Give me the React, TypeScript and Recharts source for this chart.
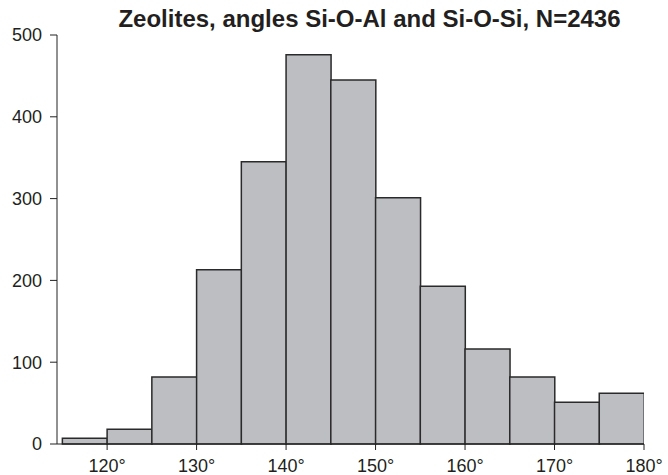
import { Bar, BarChart, XAxis, YAxis } from "recharts";

// bin start angles (degrees), each bin 5° wide
const binStarts = [115, 120, 125, 130, 135, 140, 145, 150, 155, 160, 165, 170, 175];
const counts = [7, 18, 82, 213, 345, 476, 445, 301, 193, 116, 82, 51, 62];
const xTicks = [120, 130, 140, 150, 160, 170, 180];
const yTicks = [0, 100, 200, 300, 400, 500];

const BIN = 5;

const chartData = binStarts.map((start, i) => ({
  mid: start + BIN / 2,
  count: counts[i],
}));

const textColor = "#231f20";
const font = "'Liberation Sans', Arial, sans-serif";

const App = () => {
  return (
    <div style={{ position: "absolute", left: 0, top: 0, width: 668, height: 475, background: "#fff" }}>
      <div
        style={{
          position: "absolute",
          left: 0,
          top: 5,
          width: 739,
          textAlign: "center",
          fontFamily: font,
          fontWeight: "bold",
          fontSize: 24,
          color: textColor,
          whiteSpace: "nowrap",
        }}
      >
        Zeolites, angles Si-O-Al and Si-O-Si, N=2436
      </div>
      <BarChart
        width={668}
        height={475}
        data={chartData}
        margin={{ top: 35, right: 24, left: 0, bottom: 0 }}
        barCategoryGap={0}
        barGap={0}
      >
        <XAxis
          dataKey="mid"
          type="number"
          domain={[114.4, 180]}
          ticks={xTicks}
          tickFormatter={(v) => `${v}°`}
          height={31}
          tickSize={6}
          tickMargin={9}
          stroke="#222"
          tick={{ fill: textColor, fontSize: 18, fontFamily: font }}
          allowDataOverflow
        />
        <YAxis
          type="number"
          domain={[0, 500]}
          ticks={yTicks}
          width={57}
          tickSize={7}
          tickMargin={8}
          stroke="#222"
          tick={{ fill: textColor, fontSize: 18, fontFamily: font }}
        />
        <Bar
          dataKey="count"
          fill="#bdbec2"
          stroke="#2a2a2a"
          strokeWidth={1.5}
          isAnimationActive={false}
        />
      </BarChart>
    </div>
  );
};

export default App;
